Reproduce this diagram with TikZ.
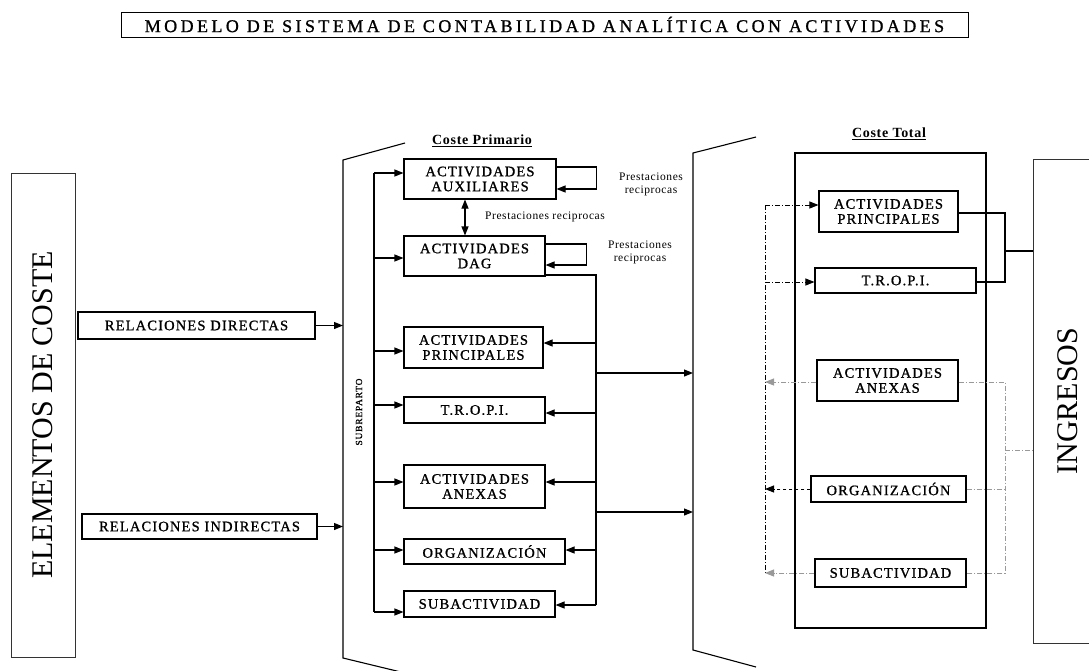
\documentclass[tikz,border=0pt]{standalone}
\usepackage{fontspec}
\setmainfont{Liberation Serif}
\newfontfamily\boxfont[LetterSpace=8,FakeBold=1]{Liberation Serif}
\newfontfamily\titlefont[LetterSpace=19,FakeBold=1]{Liberation Serif}
\newfontfamily\notefont[LetterSpace=5]{Liberation Serif}
\usetikzlibrary{arrows.meta}

\begin{document}
\begin{tikzpicture}[x=1pt,y=-1pt,
    box/.style={draw,line width=1.1pt,inner sep=0pt,align=center,font=\boxfont\fontsize{14.5}{15}\selectfont},
    bigbox/.style={draw=black!80,line width=0.9pt,rotate=90,inner sep=0pt,font=\fontsize{30}{30}\selectfont},
    note/.style={inner sep=0pt,align=center,font=\notefont\fontsize{11.5}{13}\selectfont},
    head/.style={inner sep=1pt,font=\notefont\bfseries\fontsize{14}{16}\selectfont},
    ln/.style={line width=1.1pt},
    arr/.style={line width=1.1pt,-{Triangle[length=9pt,width=7pt]}},
    dd/.style={line width=0.9pt,dash pattern=on 5pt off 2pt on 1pt off 2pt},
    gd/.style={line width=0.9pt,black!40,dash pattern=on 5pt off 2pt on 1pt off 2pt}]

  \useasboundingbox (0,0) rectangle (1089,670);

  \node[draw,line width=1pt,minimum width=847pt,minimum height=25pt,inner sep=0pt,
    font=\titlefont\fontsize{18}{20}\selectfont] (title) at (544.5,24.5)
    {MODELO DE SISTEMA DE CONTABILIDAD ANALÍTICA CON ACTIVIDADES};

  % elementos de coste
  \node[bigbox,minimum width=484pt,minimum height=64pt] (elem) at (43,415) {ELEMENTOS DE COSTE};
  \node[box,minimum width=237pt,minimum height=27pt] (dir) at (196.5,325.5) {RELACIONES DIRECTAS};
  \node[box,minimum width=235pt,minimum height=25pt] (ind) at (199.5,526.5) {RELACIONES INDIRECTAS};

  % coste primario
  \draw[ln] (405,143) -- (343,160) -- (343,658) -- (405,673);
  \coordinate (lb) at (343,0);
  \coordinate (dist) at (374,0);
  \coordinate (col) at (596,0);
  \coordinate (rb) at (693,0);
  \coordinate (dbl) at (465,0);
  \node[head] (cp) at (482,141) {\underline{Coste Primario}};
  \node[note,rotate=90,font=\boxfont\fontsize{9.5}{11}\selectfont] (subr) at (359,412) {SUBREPARTO};

  \node[box,minimum width=152pt,minimum height=40pt] (aux) at (480,179) {ACTIVIDADES\\AUXILIARES};
  \node[box,minimum width=141pt,minimum height=40pt] (dag) at (474.5,256) {ACTIVIDADES\\DAG};
  \node[box,minimum width=139pt,minimum height=41pt] (pri) at (473.5,347.5) {ACTIVIDADES\\PRINCIPALES};
  \node[box,minimum width=141pt,minimum height=26pt] (tro) at (474.5,410) {T.R.O.P.I.};
  \node[box,minimum width=141pt,minimum height=43pt] (anx) at (474.5,486.5) {ACTIVIDADES\\ANEXAS};
  \node[box,minimum width=161pt,minimum height=25pt] (org) at (484.5,551.5) {ORGANIZACIÓN};
  \node[box,minimum width=151pt,minimum height=26pt] (sub) at (479.5,604) {SUBACTIVIDAD};

  \draw[arr] (dir.east) -- (dir.east -| lb);
  \draw[arr] (ind.east) -- (ind.east -| lb);

  \draw[ln] ([yshift=6pt]aux.west -| dist) -- ([yshift=-8pt]sub.west -| dist);
  \foreach \n/\s in {aux/6,dag/-2,pri/-3.5,tro/5,anx/4.5,org/1.5,sub/-8}
    \draw[arr] ([yshift=\s pt]\n.west -| dist) -- ([yshift=\s pt]\n.west);

  \draw[arr] ([yshift=12pt]aux.east) -- ++(40,0) -- ++(0,22) -- ([yshift=-10pt]aux.east);
  \draw[arr] ([yshift=12pt]dag.east) -- ++(41,0) -- ++(0,21) -- ([yshift=-9pt]dag.east);
  \draw[line width=1.1pt,{Triangle[length=9pt,width=7pt]}-{Triangle[length=9pt,width=7pt]}]
    (aux.south -| dbl) -- (dag.north -| dbl);
  \node[note] (pr1) at (545,217) {Prestaciones reciprocas};
  \node[note] (pr2) at (651,184) {Prestaciones\\reciprocas};
  \node[note] (pr3) at (640,252) {Prestaciones\\reciprocas};

  \draw[ln] ([yshift=-19pt]dag.east) -| ([yshift=-1pt]sub.east -| col);
  \foreach \n/\s in {pri/4.5,tro/-3,anx/4.5,org/1.5,sub/-1}
    \draw[arr] ([yshift=\s pt]\n.east -| col) -- ([yshift=\s pt]\n.east);
  \draw[arr] (col |- 0,373) -- (rb |- 0,373);
  \draw[arr] (col |- 0,512) -- (rb |- 0,512);

  % coste total
  \draw[ln] (756,137) -- (693,153) -- (693,650) -- (756,667);
  \node[head] (ct) at (889,134) {\underline{Coste Total}};
  \node[draw,line width=1.1pt,minimum width=191pt,minimum height=475pt,inner sep=0pt] (tot) at (890.5,390.5) {};
  \coordinate (dl) at (765,0);
  \coordinate (gr) at (1005,0);

  \node[box,minimum width=139pt,minimum height=41pt] (rpri) at (888.5,211.5) {ACTIVIDADES\\PRINCIPALES};
  \node[box,minimum width=161pt,minimum height=25pt] (rtro) at (895.5,280.5) {T.R.O.P.I.};
  \node[box,minimum width=141pt,minimum height=41pt] (ranx) at (887.5,380.5) {ACTIVIDADES\\ANEXAS};
  \node[box,minimum width=155pt,minimum height=26pt] (rorg) at (888.5,489) {ORGANIZACIÓN};
  \node[box,minimum width=151pt,minimum height=28pt] (rsub) at (890.5,573) {SUBACTIVIDAD};

  \draw[dd] ([yshift=6.5pt]rpri.west -| dl) -- (rsub.west -| dl);
  \draw[dd,-{Triangle[length=9pt,width=7pt]}] ([yshift=6.5pt]rpri.west -| dl) -- ([yshift=6.5pt]rpri.west);
  \draw[dd,-{Triangle[length=9pt,width=7pt]}] ([yshift=-1.5pt]rtro.west -| dl) -- ([yshift=-1.5pt]rtro.west);
  \draw[gd,-{Triangle[length=9pt,width=7pt]}] ([yshift=-1.5pt]ranx.west) -- ([yshift=-1.5pt]ranx.west -| dl);
  \draw[dd,dashed,-{Triangle[length=9pt,width=7pt]}] (rorg.west) -- (rorg.west -| dl);
  \draw[gd,-{Triangle[length=9pt,width=7pt]}] (rsub.west) -- (rsub.west -| dl);

  % ingresos
  \node[bigbox,minimum width=484pt,minimum height=70pt] (ing) at (1068,401) {INGRESOS};

  \draw[ln] ([yshift=-1.5pt]rpri.east) -| ([yshift=-1.5pt]rtro.east -| gr) -- ([yshift=-1.5pt]rtro.east);
  \draw[ln] (gr |- 0,251) -- (ing.north |- 0,251);
  \draw[gd] ([yshift=-1.5pt]ranx.east) -| (rsub.east -| gr) -- (rsub.east);
  \draw[gd] (rorg.east) -- (rorg.east -| gr);
  \draw[gd] (gr |- 0,450) -- (ing.north |- 0,450);
\end{tikzpicture}
\end{document}
